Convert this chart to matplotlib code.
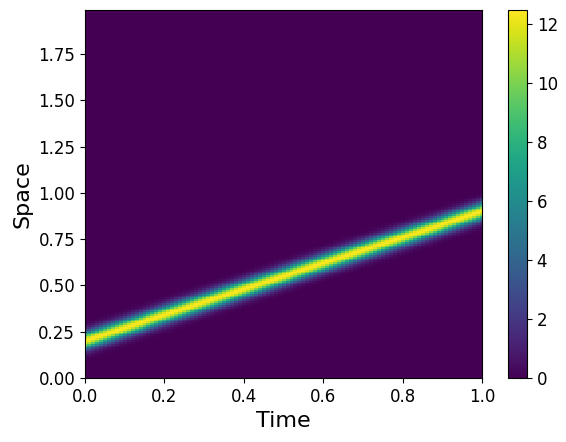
import numpy as np
import matplotlib
matplotlib.use("Agg")
import matplotlib.pyplot as plt

# ----------------------------
# Data: a Gaussian pulse moving through space
# (parameters)
# ----------------------------
time = np.linspace(0.0, 1.0, 101)
space = np.arange(0.0, 2.0, 0.01)

start_position = 0.2
end_position = 0.9
pulse_width = 0.032
peak_value = 12.5

centers = start_position + (end_position - start_position) * time
T, X = np.meshgrid(time, space)
C = np.meshgrid(centers, space)[0]
u = peak_value * np.exp(-0.5 * ((X - C) / pulse_width) ** 2)

# ----------------------------
# Plot
# ----------------------------
fig = plt.figure(figsize=(5.66, 4.42), dpi=100)
ax = fig.add_axes([0.150, 0.145, 0.702, 0.833])
cax = fig.add_axes([0.897, 0.145, 0.034, 0.833])

mesh = ax.pcolormesh(T, X, u, cmap="viridis", shading="nearest",
                     vmin=0, vmax=peak_value)
ax.set_xlim(0, 1)
ax.set_ylim(0, space.max())

ax.set_xlabel("Time", fontsize=16)
ax.set_ylabel("Space", fontsize=16)
ax.tick_params(labelsize=12)
ax.set_yticks(np.arange(0, 2.0, 0.25))

cb = fig.colorbar(mesh, cax=cax)
cb.set_ticks([0, 2, 4, 6, 8, 10, 12])
cb.ax.tick_params(labelsize=12)

fig.savefig("out.png", dpi=100)
